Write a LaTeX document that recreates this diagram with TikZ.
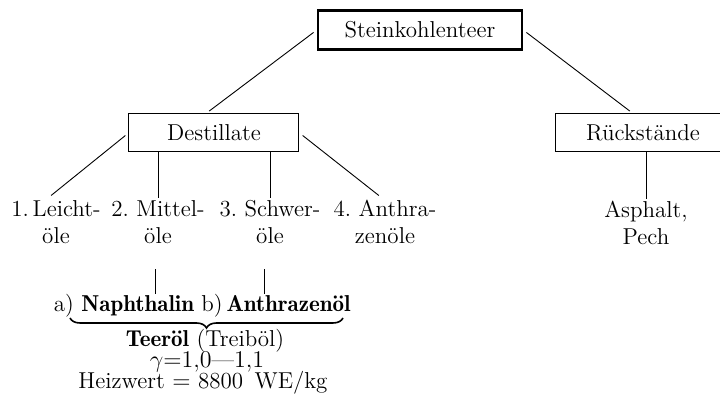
\documentclass[tikz,border=0pt]{standalone}
\usepackage{amsmath}
\usetikzlibrary{decorations.pathreplacing}
\usetikzlibrary{positioning}
\newcommand{\halbfett}[1]{{\fontseries{b}\selectfont #1}}
\frenchspacing
\tikzset{
    stage/.style={
      rectangle,
      draw=black, line width=0.5pt,
      minimum width=85pt,
      minimum height=19pt,
      inner sep=2pt,
      text centered,
    },
    root/.style={stage, line width=1.2pt, minimum width=102pt, minimum height=19.5pt},
    fraction/.style={align=center, inner sep=1pt, anchor=north},
    product/.style={inner sep=0pt, anchor=base},
    link/.style={shorten <=2pt, shorten >=2pt},
}

\begin{document}
\begin{tikzpicture}[x=0.5pt, y=-0.5pt, line width=0.45pt,
    font=\fontsize{11.5}{13.5}\selectfont]
    \useasboundingbox (0,0) rectangle (720,395);

    \node[root] (tar) at (420,30) {Steinkohlenteer};
    \node[stage] (dest) at (214,133) {Destillate};
    \node[stage, minimum width=87pt] (rueck) at (643,133) {Rückstände};

    \node[fraction] (leicht) at (56,198) {1.\,Leicht-\\öle};
    \node[fraction] (mittel) at (158,198) {2. Mittel-\\öle};
    \node[fraction] (schwer) at (270,198) {3. Schwer-\\öle};
    \node[fraction] (anthra) at (385,198) {4. Anthra-\\zenöle};
    \node[fraction] (asph) at (646,199) {Asphalt,\\Pech};

    \node[product] (naph) at (124,312) {a) \halbfett{Naphthalin}};
    \node[product] (anth) at (276,312) {b)\,\halbfett{Anthrazenöl}};
    \coordinate (bl) at (70,318);
    \coordinate (br) at (343,318);
    \node[product] (teeroel) at (205,347) {\halbfett{Teeröl} (Treiböl)};
    \node[product] (dichte) at (207,368) {$\gamma{=}1{,}0$\textemdash$1{,}1$};
    \node[product] (heiz) at (203,389) {Heizwert $=$ 8800\enspace WE/kg};

    \draw[link] (tar.west) -- ([xshift=-4pt]dest.north);
    \draw[link] (tar.east) -- ([xshift=-5pt]rueck.north);
    \draw[link] (dest.west) -- ([xshift=-4pt]leicht.north);
    \draw (mittel.north |- dest.south) -- (mittel.north);
    \draw (schwer.north |- dest.south) -- (schwer.north);
    \draw[link] (dest.east) -- ([xshift=-1.5pt]anthra.north);
    \draw (asph.north |- rueck.south) -- (asph.north);

    \draw[shorten <=11.5pt] ([xshift=-1.5pt]mittel.south)
      -- ([xshift=-1.5pt]mittel.south |- naph.north);
    \draw[shorten <=11.5pt] ([xshift=-3pt]schwer.south)
      -- ([xshift=-3pt]schwer.south |- anth.north);

    \draw[decorate, decoration={brace, mirror, amplitude=5pt}, line width=0.8pt]
      (bl) -- (br);
\end{tikzpicture}
\end{document}
